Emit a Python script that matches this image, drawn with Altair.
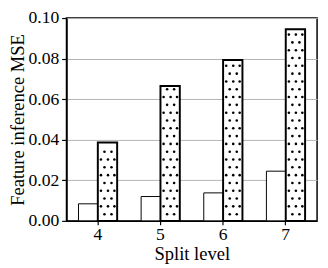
import altair as alt
import pandas as pd

levels = ["4", "5", "6", "7"]
plain = [0.0084, 0.0120, 0.0138, 0.0245]
dotted = [0.0386, 0.0665, 0.0793, 0.0945]
y_ticks = [0.0, 0.02, 0.04, 0.06, 0.08, 0.10]

rows = []
for lv, a, b in zip(levels, plain, dotted):
    rows.append({"level": lv, "series": "plain", "value": a})
    rows.append({"level": lv, "series": "dotted", "value": b})
df = pd.DataFrame(rows)
df_dot = pd.DataFrame({"level": levels, "value": dotted})

FONT = "Liberation Serif"
W, H = 257, 208
STEP = W / 4

x_enc = alt.X("level:O", title="Split level",
              scale=alt.Scale(paddingInner=0, paddingOuter=0),
              axis=alt.Axis(labelAngle=0, tickSize=4, grid=False, titlePadding=2,
                            labelPadding=1))
y_enc = alt.Y("value:Q", title="Feature inference MSE",
              scale=alt.Scale(domain=[0, 0.1], nice=False),
              axis=alt.Axis(values=y_ticks, format=".2f", grid=True, tickSize=5,
                            labelPadding=3, titlePadding=1))

bars = alt.Chart(df).mark_bar(fill="white", stroke="black", opacity=1).encode(
    x=x_enc,
    y=y_enc,
    xOffset=alt.XOffset("series:N",
                        scale=alt.Scale(domain=["plain", "dotted"], paddingInner=0, paddingOuter=0.62)),
    strokeWidth=alt.StrokeWidth("series:N",
                                scale=alt.Scale(domain=["plain", "dotted"], range=[1, 2]),
                                legend=None),
)

dots = alt.Chart(df_dot).transform_calculate(
    ys="sequence(0.0033, datum.value - 0.0009, 0.00385)"
).transform_flatten(["ys"]).transform_calculate(
    parity="round((datum.ys - 0.0033) / 0.00385) % 2"
).transform_calculate(
    cols="datum.parity == 0 ? [6.8, 14] : [3.2, 10.4, 17]"
).transform_flatten(["cols"]).transform_calculate(
    off=f"{STEP / 2} + datum.cols"
).mark_circle(color="black", size=7, opacity=1).encode(
    x=alt.X("level:O"),
    y=alt.Y("ys:Q"),
    xOffset=alt.XOffset("off:Q", scale=alt.Scale(domain=[0, STEP], range=[0, STEP])),
)

chart = alt.layer(bars, dots).resolve_scale(xOffset="independent").properties(
    width=W, height=H,
    autosize=alt.AutoSizeParams(type="none"),
    padding={"left": 60, "top": 7, "right": 3, "bottom": 44},
).configure_view(
    stroke="black", strokeWidth=1.5
).configure_axis(
    domainColor="black", domainWidth=1.5, tickColor="black", tickWidth=1.2,
    labelFont=FONT, labelFontSize=18, labelColor="black",
    titleFont=FONT, titleFontSize=19, titleFontWeight="normal", titleColor="black",
    gridColor="#b3b3b3", gridWidth=1,
)

chart.save("out.html", embed_options={"renderer": "svg", "actions": False})
